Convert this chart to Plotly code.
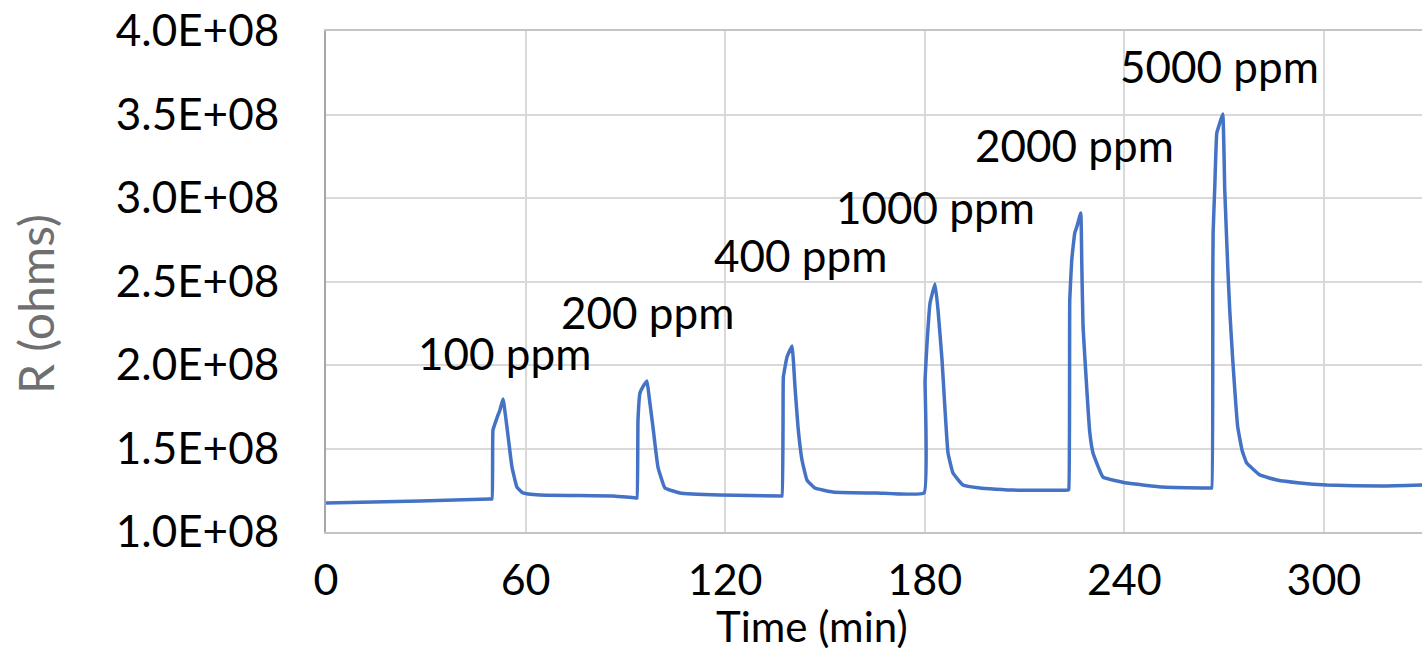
import plotly.graph_objects as go

# Time (min) and resistance (ohms)
time_min = [0.0, 28.3, 49.3, 49.9, 50.2, 51.4, 52.3, 53.2, 53.5, 54.4, 55.9, 57.4, 59.2, 64.3,
            86.3, 93.2, 93.5, 93.8, 94.4, 95.3, 96.5, 97.2, 98.3, 99.8, 101.9, 106.4, 118.4,
            136.8, 137.1, 137.4, 137.5, 138.6, 140.1, 141.0, 141.9, 143.1, 144.6, 147.0, 152.4, 165.6,
            179.8, 180.1, 180.7, 181.6, 183.1, 184.0, 185.2, 186.1, 187.0, 188.5, 191.5, 196.6, 206.5,
            223.0, 223.3, 223.6, 224.2, 225.1, 225.7, 226.9, 227.2, 227.6, 228.8, 229.6, 230.6, 233.6,
            240.8, 251.6,
            266.0, 266.3, 266.6, 266.7, 267.2, 267.8, 268.7, 269.6, 270.2, 271.1, 271.7, 272.6, 274.1,
            275.4, 276.8, 280.8, 285.9, 292.8, 300.9, 317.7, 329.5]
r_ohms = [1.174e8, 1.186e8, 1.198e8, 1.198e8, 1.611e8, 1.683e8, 1.731e8, 1.796e8, 1.766e8, 1.629e8,
          1.390e8, 1.269e8, 1.234e8, 1.222e8,
          1.216e8, 1.204e8, 1.204e8, 1.671e8, 1.832e8, 1.870e8, 1.904e8, 1.800e8, 1.629e8, 1.389e8,
          1.263e8, 1.234e8, 1.222e8,
          1.216e8, 1.216e8, 1.629e8, 1.928e8, 2.048e8, 2.114e8, 1.868e8, 1.629e8, 1.431e8, 1.311e8,
          1.263e8, 1.240e8, 1.234e8,
          1.234e8, 1.910e8, 2.132e8, 2.371e8, 2.485e8, 2.329e8, 2.030e8, 1.731e8, 1.473e8, 1.353e8,
          1.281e8, 1.263e8, 1.251e8,
          1.251e8, 1.255e8, 2.389e8, 2.629e8, 2.790e8, 2.826e8, 2.910e8, 2.629e8, 2.228e8, 1.832e8,
          1.600e8, 1.473e8, 1.329e8, 1.293e8, 1.269e8,
          1.263e8, 1.263e8, 2.509e8, 2.790e8, 3.066e8, 3.389e8, 3.449e8, 3.503e8, 3.048e8, 2.587e8,
          2.329e8, 2.030e8, 1.629e8,
          1.490e8, 1.413e8, 1.341e8, 1.311e8, 1.293e8, 1.281e8, 1.275e8, 1.281e8]

# Concentration labels and where they sit (time, R)
label_text = ["100 ppm", "200 ppm", "400 ppm", "1000 ppm", "2000 ppm", "5000 ppm"]
label_x = [53.8, 96.8, 142.8, 183.1, 225.1, 268.7]
label_y = [2.07e8, 2.32e8, 2.657e8, 2.944e8, 3.315e8, 3.788e8]

x_ticks = [0, 60, 120, 180, 240, 300]
y_ticks = [1.0e8, 1.5e8, 2.0e8, 2.5e8, 3.0e8, 3.5e8, 4.0e8]
y_tick_text = ["1.0E+08", "1.5E+08", "2.0E+08", "2.5E+08", "3.0E+08", "3.5E+08", "4.0E+08"]

FONT = "Lato"

fig = go.Figure()
fig.add_trace(go.Scatter(x=time_min, y=r_ohms, mode="lines",
                         line=dict(color="#4472C4", width=3.5, shape="spline", smoothing=0.3),
                         showlegend=False, hoverinfo="skip"))

for t, xv, yv in zip(label_text, label_x, label_y):
    fig.add_annotation(x=xv, y=yv, text=t, showarrow=False, xanchor="center", yanchor="middle",
                       font=dict(family=FONT, size=44, color="black"))

# axis titles
fig.add_annotation(xref="paper", yref="paper", x=(812 - 326) / 1096, y=(532 - 626) / 501,
                   text="Time (min)", showarrow=False, xanchor="center", yanchor="middle",
                   font=dict(family=FONT, size=42, color="black"))
fig.add_annotation(xref="paper", yref="paper", x=(35 - 326) / 1096, y=(532 - 304) / 501,
                   text="R (ohms)", showarrow=False, textangle=-90, xanchor="center", yanchor="middle",
                   font=dict(family=FONT, size=48, color="#6f6f6f"))

fig.update_layout(
    width=1422, height=652,
    margin=dict(l=326, r=0, t=31, b=120),
    paper_bgcolor="white", plot_bgcolor="white",
    font=dict(family=FONT, size=43, color="black"),
    xaxis=dict(range=[0, 329.5], tickvals=x_ticks, ticktext=[str(v) for v in x_ticks],
               showgrid=True, gridcolor="#d9d9d9", gridwidth=2,
               showline=True, linecolor="#c4c4c4", linewidth=2, mirror=True,
               zeroline=False, ticks="", ticklabelstandoff=9,
               tickfont=dict(family=FONT, size=43, color="black")),
    yaxis=dict(range=[1.0e8, 4.0e8], tickvals=y_ticks, ticktext=y_tick_text,
               showgrid=True, gridcolor="#d9d9d9", gridwidth=2,
               showline=True, linecolor="#a6a6a6", linewidth=2,
               zeroline=False, ticks="", ticklabelstandoff=36,
               tickfont=dict(family=FONT, size=44, color="black")),
)

fig.write_html("out.html")
